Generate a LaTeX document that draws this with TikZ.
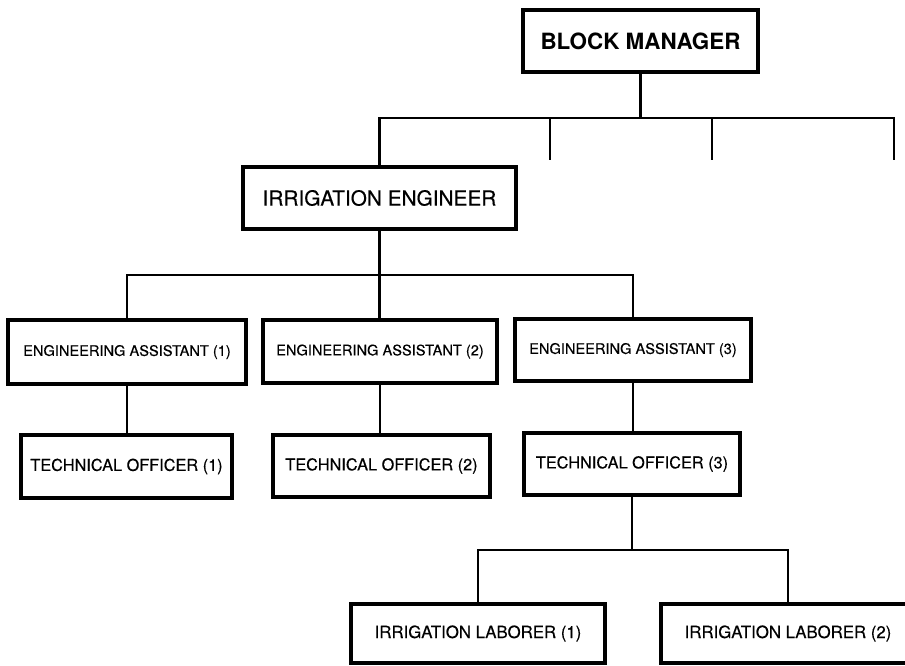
\documentclass[tikz,border=0pt]{standalone}
\usepackage{fontspec}
\setmainfont{TeX Gyre Heros}
% slightly heavier strokes for the upright labels
\newfontfamily\heavier[FakeBold=0.35]{TeX Gyre Heros}
\begin{document}
\begin{tikzpicture}[x=1pt,y=-1pt,
  box/.style={draw=black,line width=3.2pt,fill=white,rectangle,inner sep=0pt,
              align=center},
  link/.style={draw=black,line width=2.4pt},
  fbm/.style={font=\fontsize{22.4}{26}\selectfont\bfseries},
  fie/.style={font=\heavier\fontsize{20.8}{24}\selectfont},
  fea/.style={font=\heavier\fontsize{14.6}{17}\selectfont},
  fto/.style={font=\heavier\fontsize{16.3}{19}\selectfont},
  fil/.style={font=\heavier\fontsize{16.8}{20}\selectfont}]

% page frame
\clip (0,0) rectangle (905,665);
\fill[white] (0,0) rectangle (905,665);

% bus levels and free branch ends
\coordinate (busA) at (0,118);
\coordinate (busB) at (0,275);
\coordinate (busC) at (0,550);
\coordinate (t1) at (550,160);
\coordinate (t2) at (712,160);
\coordinate (t3) at (894,160);

% boxes
\node[box,fbm,minimum width=235,minimum height=62] (bm)  at (640.5,41)  {BLOCK MANAGER};
\node[box,fie,minimum width=273,minimum height=62] (ie)  at (379.5,198) {IRRIGATION ENGINEER};
\node[box,fea,minimum width=238,minimum height=64] (ea1) at (127,352)   {ENGINEERING ASSISTANT (1)};
\node[box,fea,minimum width=234,minimum height=63] (ea2) at (380,351.5) {ENGINEERING ASSISTANT (2)};
\node[box,fea,minimum width=236,minimum height=62] (ea3) at (633,350)   {ENGINEERING ASSISTANT (3)};
\node[box,fto,minimum width=211,minimum height=63] (to1) at (126.5,466.5) {TECHNICAL OFFICER (1)};
\node[box,fto,minimum width=217,minimum height=62] (to2) at (381.5,466) {TECHNICAL OFFICER (2)};
\node[box,fto,minimum width=216,minimum height=62] (to3) at (632,464)   {TECHNICAL OFFICER (3)};
\node[box,fil,minimum width=254,minimum height=59] (il1) at (478,633.5) {IRRIGATION LABORER (1)};
\node[box,fil,minimum width=254,minimum height=59] (il2) at (788,633.5) {IRRIGATION LABORER (2)};

% top level connectors
\draw[link] (bm.south) -- (bm.south |- busA);
\draw[link] (ie.north) |- (t3 |- busA) -- (t3);
\draw[link] (t1 |- busA) -- (t1);
\draw[link] (t2 |- busA) -- (t2);

% engineer to assistants
\draw[link] (ie.south) -- (ie.south |- ea2.north);
\draw[link] (ea1.north) |- (ea3.north |- busB) -- (ea3.north);

% assistants to officers
\draw[link] (ea1.south) -- (ea1.south |- to1.north);
\draw[link] (ea2.south) -- (ea2.south |- to2.north);
\draw[link] (ea3.south) -- (ea3.south |- to3.north);

% officer (3) to laborers
\draw[link] (to3.south) -- (to3.south |- busC);
\draw[link] (il1.north) |- (il2.north |- busC) -- (il2.north);
\end{tikzpicture}
\end{document}
